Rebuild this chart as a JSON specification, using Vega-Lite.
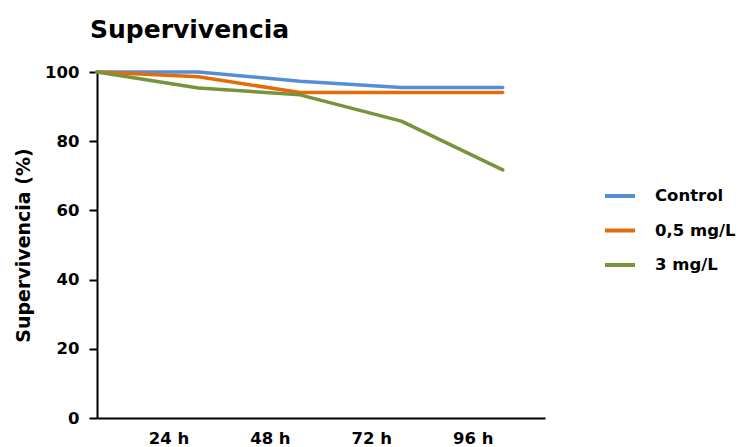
{
  "$schema": "https://vega.github.io/schema/vega-lite/v6.json",
  "width": 448,
  "height": 346,
  "autosize": "none",
  "padding": {"left": 97, "top": 72, "right": 202, "bottom": 29},
  "background": "white",
  "title": {
    "text": "Supervivencia",
    "anchor": "start",
    "frame": "group",
    "dx": -7,
    "offset": 21,
    "font": "DejaVu Sans",
    "fontSize": 25,
    "fontWeight": "bold",
    "color": "black"
  },
  "data": {
    "values": [
      {"hora": 0, "grupo": "Control", "valor": 100},
      {"hora": 24, "grupo": "Control", "valor": 100},
      {"hora": 48, "grupo": "Control", "valor": 97.3},
      {"hora": 72, "grupo": "Control", "valor": 95.5},
      {"hora": 96, "grupo": "Control", "valor": 95.5},
      {"hora": 0, "grupo": "0,5 mg/L", "valor": 100},
      {"hora": 24, "grupo": "0,5 mg/L", "valor": 98.6},
      {"hora": 48, "grupo": "0,5 mg/L", "valor": 94.1},
      {"hora": 72, "grupo": "0,5 mg/L", "valor": 94.1},
      {"hora": 96, "grupo": "0,5 mg/L", "valor": 94.1},
      {"hora": 0, "grupo": "3 mg/L", "valor": 100},
      {"hora": 24, "grupo": "3 mg/L", "valor": 95.4},
      {"hora": 48, "grupo": "3 mg/L", "valor": 93.4},
      {"hora": 72, "grupo": "3 mg/L", "valor": 85.8},
      {"hora": 96, "grupo": "3 mg/L", "valor": 71.7}
    ]
  },
  "mark": {"type": "line", "strokeWidth": 3.5, "strokeCap": "round", "strokeJoin": "round"},
  "encoding": {
    "x": {
      "field": "hora",
      "type": "quantitative",
      "scale": {"domain": [0, 106], "nice": false, "zero": true},
      "axis": {
        "values": [24, 48, 72, 96],
        "labelExpr": "datum.value + ' h'",
        "title": null,
        "grid": false,
        "ticks": false,
        "domainColor": "black",
        "domainWidth": 2,
        "labelFont": "DejaVu Sans",
        "labelFontSize": 16.5,
        "labelFontWeight": "bold",
        "labelColor": "black",
        "labelPadding": 12,
        "labelOffset": -30
      }
    },
    "y": {
      "field": "valor",
      "type": "quantitative",
      "scale": {"domain": [0, 100], "nice": false},
      "axis": {
        "values": [0, 20, 40, 60, 80, 100],
        "title": "Supervivencia (%)",
        "titleFont": "DejaVu Sans",
        "titleFontSize": 19,
        "titleFontWeight": "bold",
        "titleColor": "black",
        "titlePadding": 11,
        "grid": false,
        "domainColor": "black",
        "domainWidth": 2,
        "tickColor": "black",
        "tickWidth": 2,
        "tickSize": 8,
        "labelFont": "DejaVu Sans",
        "labelFontSize": 16.5,
        "labelFontWeight": "bold",
        "labelColor": "black",
        "labelPadding": 10
      }
    },
    "color": {
      "field": "grupo",
      "type": "nominal",
      "sort": ["Control", "0,5 mg/L", "3 mg/L"],
      "scale": {"domain": ["Control", "0,5 mg/L", "3 mg/L"], "range": ["#558ED5", "#E36C09", "#77933C"]},
      "legend": {
        "orient": "none",
        "legendX": 506,
        "legendY": 107,
        "title": null,
        "symbolType": "stroke",
        "symbolSize": 900,
        "symbolStrokeWidth": 4,
        "labelFont": "DejaVu Sans",
        "labelFontSize": 16.5,
        "labelFontWeight": "bold",
        "labelColor": "black",
        "labelOffset": 18,
        "rowPadding": 8.5
      }
    }
  },
  "config": {"view": {"stroke": null}}
}
